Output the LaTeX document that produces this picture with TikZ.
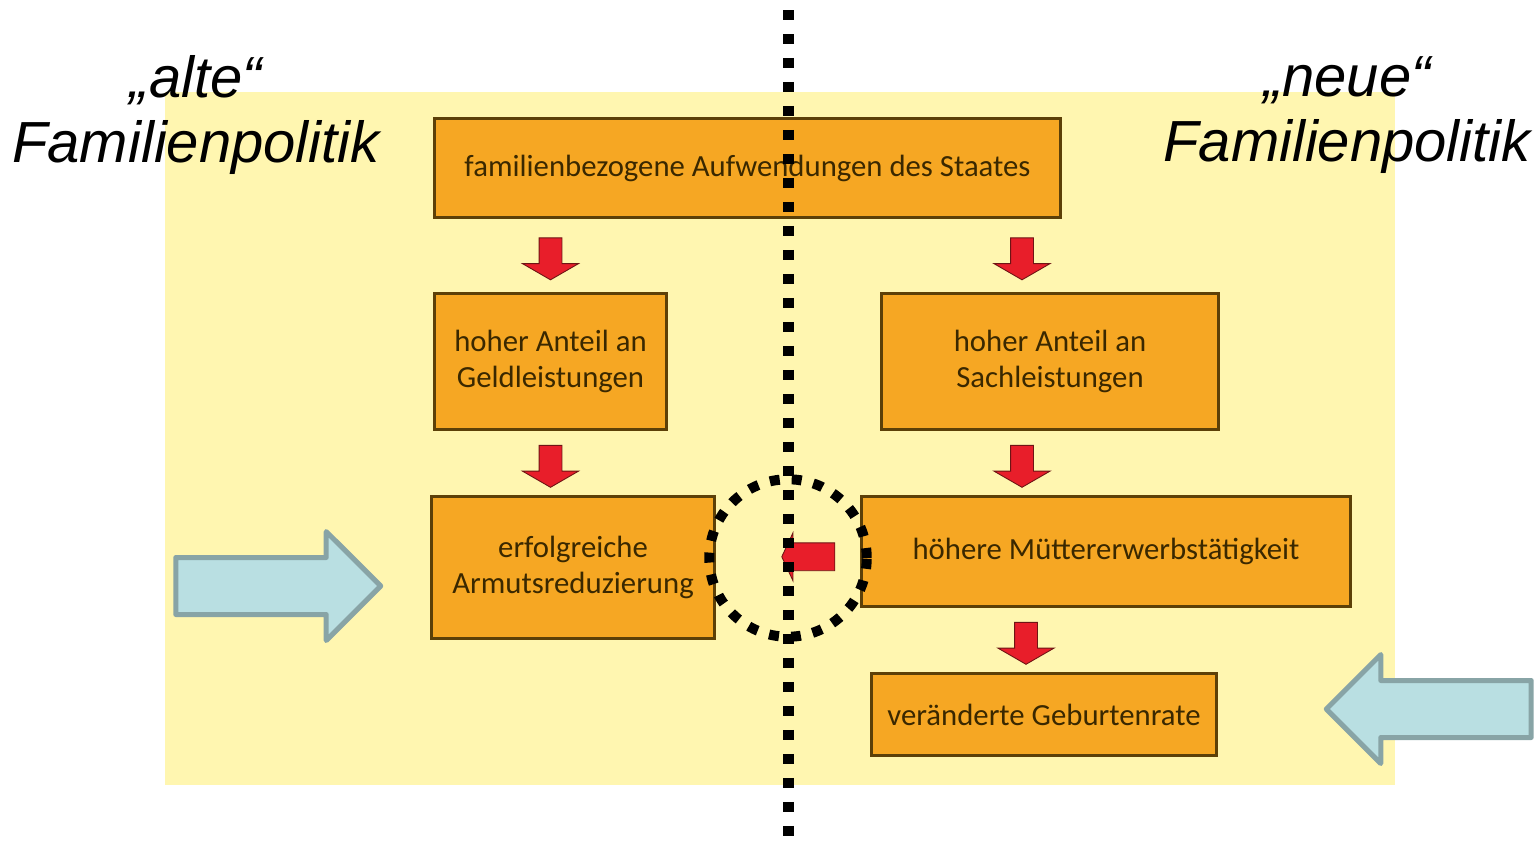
\documentclass[tikz,border=0pt]{standalone}
\usepackage{fontspec}
\setmainfont{Carlito}
\newfontfamily\titlefont{Liberation Sans}
\usepackage{tikz}
\usetikzlibrary{calc,shapes.arrows,positioning}
\definecolor{bgyellow}{RGB}{255,246,176}
\definecolor{boxorange}{RGB}{246,167,35}
\definecolor{boxline}{RGB}{92,64,8}
\definecolor{boxtext}{RGB}{58,40,0}
\definecolor{arrred}{RGB}{232,30,42}
\definecolor{arrline}{RGB}{110,20,20}
\definecolor{bluefill}{RGB}{185,223,226}
\definecolor{blueline}{RGB}{136,164,166}

\begin{document}
\begin{tikzpicture}[x=0.02cm, y=-0.02cm,
  box/.style={rectangle, draw=boxline, line width=0.06cm, fill=boxorange, text=boxtext, align=center, font=\fontsize{17.5}{20.5}\selectfont, inner sep=0pt},
  downarr/.style={single arrow, draw=arrline, line width=0.5pt, fill=arrred, inner sep=0.22cm, single arrow head extend=0.33cm, single arrow tip angle=120, minimum height=0.84cm, shape border rotate=270},
  leftarr/.style={single arrow, draw=arrline, line width=0.5pt, fill=arrred, inner sep=0.27cm, single arrow head extend=0.2cm, single arrow tip angle=130, minimum height=1.06cm, shape border rotate=180},
  bluearr/.style={single arrow, draw=blueline, line width=0.1cm, line join=round, fill=bluefill, inner sep=0.52cm, single arrow head extend=0.52cm, minimum height=4.1cm},
  ring/.style={circle, draw=black, line width=0.2cm, dash pattern=on 0.2cm off 0.24cm, minimum size=3.15cm, inner sep=0pt},
  divider/.style={draw=black, line width=0.22cm, dash pattern=on 0.2cm off 0.28cm},
  title/.style={align=center, font=\titlefont\itshape\fontsize{33}{37.4}\selectfont, inner sep=0pt}]
  \useasboundingbox (0,0) rectangle (1539,840);
  \fill[bgyellow] (165,92) rectangle (1395,785);

  \node[title] (told) at (196,115) {„alte“\\Familienpolitik};
  \node[title] (tnew) at (1347,115) {„neue“\\Familienpolitik};

  \node[box, minimum width=12.52cm, minimum height=1.98cm] (top) at (747.5,168) {familienbezogene Aufwendungen des Staates};
  \node[box, minimum width=4.64cm, minimum height=2.72cm] (geld) at (550.5,361.5) {hoher Anteil an\\Geldleistungen};
  \node[box, minimum width=6.74cm, minimum height=2.72cm] (sach) at (1050,361.5) {hoher Anteil an\\Sachleistungen};
  \node[box, minimum width=5.66cm, minimum height=2.84cm] (armut) at (573,567.5) {erfolgreiche\\Armutsreduzierung};
  \node[box, minimum width=9.78cm, minimum height=2.2cm] (muetter) at (1106,551.5) {höhere Müttererwerbstätigkeit};
  \node[box, minimum width=6.9cm, minimum height=1.64cm] (geburt) at (1044,714.5) {veränderte Geburtenrate};

  \path (geld.north |- top.south) -- node[downarr] (d1) {} (geld.north);
  \path (geld.south) -- node[downarr] (d2) {} (geld.south |- armut.north);
  \path (sach.north |- top.south) -- node[downarr, xshift=-0.56cm] (d3) {} (sach.north);
  \path (sach.south) -- node[downarr, xshift=-0.56cm] (d4) {} (sach.south |- muetter.north);
  \path (muetter.south -| geburt.north) -- node[downarr, xshift=-0.36cm] (d5) {} (geburt.north);

  \node[ring] (ring) at (788,558) {};
  \path (ring.center) -- node[leftarr, xshift=-0.25cm, yshift=-0.04cm] (d6) {} (muetter.west);

  \node[bluearr] (b1) at (264,586) {};
  \node[bluearr, shape border rotate=180] (b2) at (1443,709) {};

  \coordinate (dtop) at (788,10);
  \coordinate (dbot) at (788,840);
  \draw[divider] (dtop) -- (dbot);
\end{tikzpicture}
\end{document}
